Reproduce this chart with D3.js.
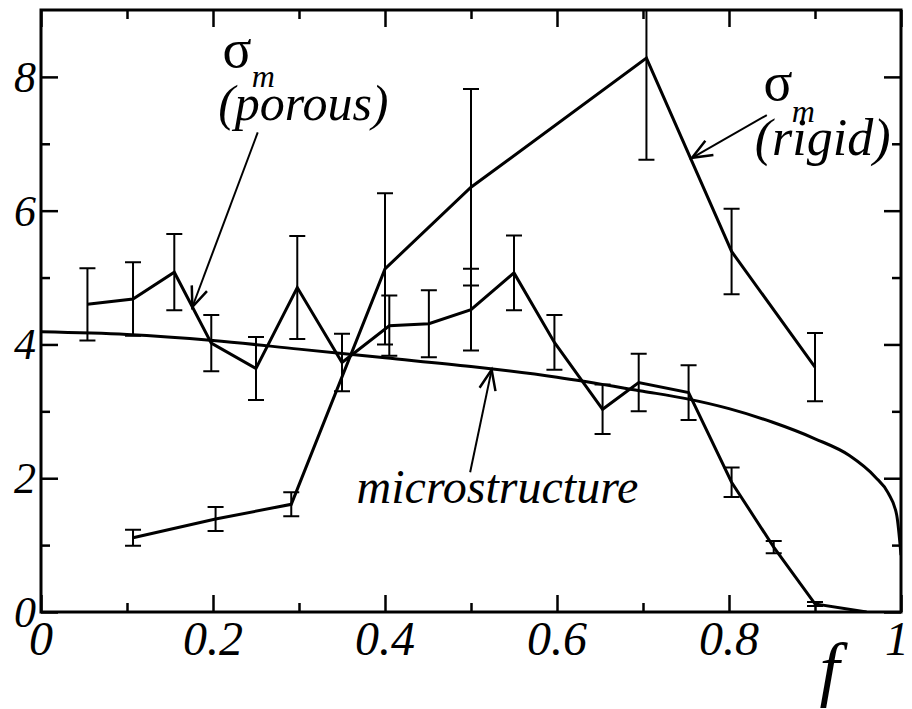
<!DOCTYPE html>
<html>
<head>
<meta charset="utf-8">
<script src="https://cdn.jsdelivr.net/npm/d3@7"></script>
<style>
  body { margin: 0; background: #fff; }
  svg { display: block; }
</style>
</head>
<body>
<div id="chart"></div>
<script>
// values
const porousF = [0.054, 0.107, 0.155, 0.198, 0.25, 0.298, 0.35, 0.405, 0.451, 0.5, 0.55, 0.597, 0.653, 0.695, 0.753, 0.803, 0.852, 0.9, 0.96];
const porousV = [4.60, 4.68, 5.08, 4.02, 3.64, 4.85, 3.73, 4.28, 4.31, 4.52, 5.07, 4.03, 3.03, 3.43, 3.28, 1.94, 0.97, 0.12, 0.0];
const porousErr = [0.54, 0.55, 0.57, 0.42, 0.47, 0.77, 0.43, 0.45, 0.50, 0.61, 0.56, 0.41, 0.37, 0.43, 0.41, 0.22, 0.09, 0.03, 0];

const rigidF = [0.107, 0.203, 0.291, 0.4, 0.5, 0.704, 0.803, 0.9];
const rigidV = [1.11, 1.39, 1.61, 5.13, 6.35, 8.28, 5.39, 3.66];
const rigidErr = [0.12, 0.18, 0.18, 1.13, 1.47, 1.52, 0.64, 0.51];

const microF = [0, 0.1, 0.2, 0.3, 0.4, 0.5, 0.6, 0.7, 0.75, 0.8, 0.85, 0.9, 0.94, 0.97, 0.985, 0.995, 1.0];
const microV = [4.19, 4.15, 4.06, 3.93, 3.80, 3.67, 3.51, 3.30, 3.19, 3.04, 2.84, 2.59, 2.34, 2.02, 1.78, 1.45, 0.85];

const xMajor = [0, 0.2, 0.4, 0.6, 0.8, 1];
const xMajorLabels = ["0", "0.2", "0.4", "0.6", "0.8", "1"];
const xMinor = [0.1, 0.3, 0.5, 0.7, 0.9];
const yMajor = [0, 2, 4, 6, 8];
const yMinor = [1, 3, 5, 7];

const serif = "'Liberation Serif', 'Times New Roman', Times, serif";

const W = 912, H = 709;
const margin = {top: 10, right: 11, bottom: 97, left: 41};
const width = W - margin.left - margin.right;
const height = H - margin.top - margin.bottom;

const x = d3.scaleLinear().domain([0, 1]).range([0, width]);
const y = d3.scaleLinear().domain([0, 9]).range([height, 0]);

const svg = d3.select("#chart").append("svg")
    .attr("width", W)
    .attr("height", H);

const defs = svg.append("defs");
defs.append("clipPath")
    .attr("id", "plot-clip")
    .append("rect")
    .attr("width", width)
    .attr("height", height);

defs.append("marker")
    .attr("id", "arrow")
    .attr("markerUnits", "userSpaceOnUse")
    .attr("markerWidth", 30)
    .attr("markerHeight", 30)
    .attr("viewBox", "-20 -10 24 20")
    .attr("refX", 0)
    .attr("refY", 0)
    .attr("orient", "auto")
    .append("path")
    .attr("d", "M-16,-6.5L0,0L-16,6.5")
    .attr("fill", "none")
    .attr("stroke", "#000")
    .attr("stroke-width", 2);

const g = svg.append("g")
    .attr("transform", `translate(${margin.left},${margin.top})`);

function label(parent, txt, px, py, size, italic, anchor) {
    return parent.append("text")
        .attr("x", px)
        .attr("y", py)
        .attr("text-anchor", anchor || "start")
        .attr("font-family", serif)
        .attr("font-size", size)
        .attr("font-style", italic ? "italic" : "normal")
        .text(txt);
}

// ticks on all four sides, pointing in
const tickSize = {major: 17, minor: 9};
const axes = [
    [d3.axisBottom(x).tickValues(xMajor).tickSize(-tickSize.major), `translate(0,${height})`],
    [d3.axisBottom(x).tickValues(xMinor).tickSize(-tickSize.minor), `translate(0,${height})`],
    [d3.axisTop(x).tickValues(xMajor).tickSize(-tickSize.major), null],
    [d3.axisTop(x).tickValues(xMinor).tickSize(-tickSize.minor), null],
    [d3.axisLeft(y).tickValues(yMajor).tickSize(-tickSize.major), null],
    [d3.axisLeft(y).tickValues(yMinor).tickSize(-tickSize.minor), null],
    [d3.axisRight(y).tickValues(yMajor).tickSize(-tickSize.major), `translate(${width},0)`],
    [d3.axisRight(y).tickValues(yMinor).tickSize(-tickSize.minor), `translate(${width},0)`]
];
axes.forEach(([axis, tr]) => {
    const a = g.append("g").call(axis.tickFormat(""));
    if (tr) a.attr("transform", tr);
    a.select(".domain").remove();
    a.selectAll(".tick text").remove();
    a.selectAll(".tick line").attr("stroke", "#000").attr("stroke-width", 2.5);
});

// tick labels
xMajor.forEach((d, i) => label(g, xMajorLabels[i], x(d) - (d === 1 ? 4 : 0), height + 43, 48, true, "middle"));
yMajor.forEach(d => label(g, d, -5, y(d) + 15, 44, true, "end"));

// axis title
label(g, "f", x(0.917), height + 81, 72, true, "middle");

const plot = g.append("g").attr("clip-path", "url(#plot-clip)");

// microstructure curve
const micro = microF.map((f, i) => ({f: f, v: microV[i]}));
plot.append("path")
    .datum(micro)
    .attr("fill", "none")
    .attr("stroke", "#000")
    .attr("stroke-width", 3)
    .attr("d", d3.line().x(d => x(d.f)).y(d => y(d.v)).curve(d3.curveMonotoneX));

function drawSeries(fs, vs, errs) {
    const pts = fs.map((f, i) => ({f: f, v: vs[i], e: errs[i]}));
    plot.append("g").selectAll("path")
        .data(pts.filter(d => d.e > 0))
        .enter().append("path")
        .attr("fill", "none")
        .attr("stroke", "#000")
        .attr("stroke-width", 2)
        .attr("d", d => {
            const cx = x(d.f), t = y(d.v + d.e), b = y(d.v - d.e);
            return `M${cx},${t}V${b}M${cx - 8},${t}H${cx + 8}M${cx - 8},${b}H${cx + 8}`;
        });
    plot.append("path")
        .datum(pts)
        .attr("fill", "none")
        .attr("stroke", "#000")
        .attr("stroke-width", 3)
        .attr("d", d3.line().x(d => x(d.f)).y(d => y(d.v)));
}

drawSeries(porousF, porousV, porousErr);
drawSeries(rigidF, rigidV, rigidErr);

// frame
g.append("rect")
    .attr("width", width)
    .attr("height", height)
    .attr("fill", "none")
    .attr("stroke", "#000")
    .attr("stroke-width", 3);

// annotations
const arrows = [
    {from: [0.252, 7.17], to: [0.176, 4.56]},
    {from: [0.844, 7.43], to: [0.757, 6.79]},
    {from: [0.499, 2.09], to: [0.524, 3.62]}
];
g.selectAll(".arrow")
    .data(arrows)
    .enter().append("line")
    .attr("x1", d => x(d.from[0]))
    .attr("y1", d => y(d.from[1]))
    .attr("x2", d => x(d.to[0]))
    .attr("y2", d => y(d.to[1]))
    .attr("stroke", "#000")
    .attr("stroke-width", 2)
    .attr("marker-end", "url(#arrow)");

const notes = [
    {t: "\u03c3", f: 0.211, v: 8.15, size: 54, italic: false},
    {t: "m", f: 0.245, v: 7.85, size: 32, italic: true},
    {t: "(porous)", f: 0.206, v: 7.35, size: 50, italic: true},
    {t: "\u03c3", f: 0.840, v: 7.65, size: 54, italic: false},
    {t: "m", f: 0.873, v: 7.33, size: 32, italic: true},
    {t: "(rigid)", f: 0.830, v: 6.83, size: 52, italic: true},
    {t: "microstructure", f: 0.367, v: 1.63, size: 48, italic: true}
];
notes.forEach(d => label(g, d.t, x(d.f), y(d.v), d.size, d.italic));
</script>
</body>
</html>
